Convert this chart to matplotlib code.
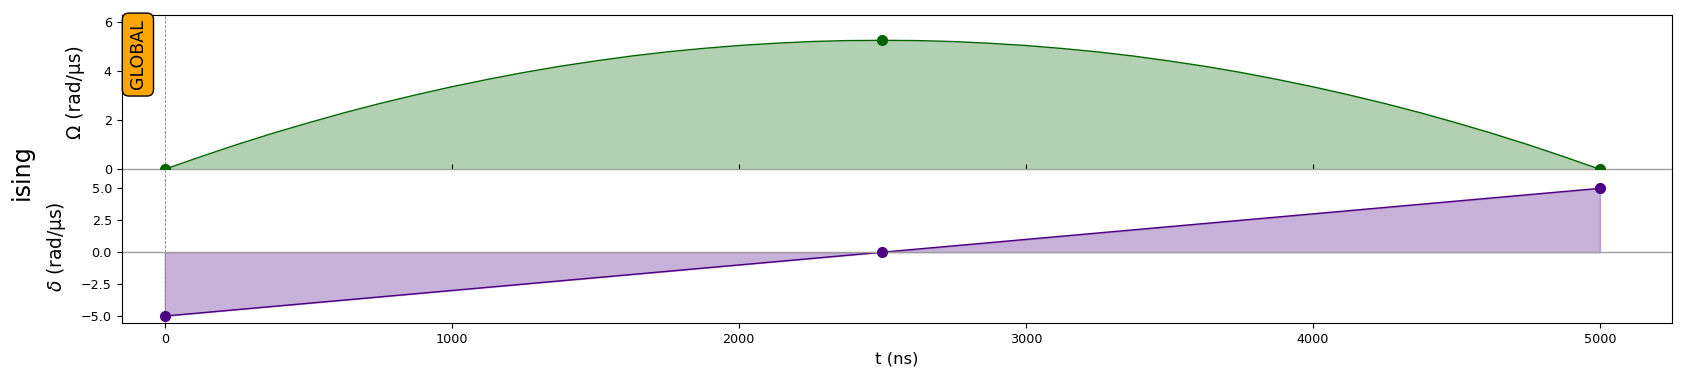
import matplotlib
matplotlib.use("Agg")
import matplotlib.pyplot as plt

# ---- data ----
omega_t = [0, 125, 250, 375, 500, 625, 750, 875, 1000, 1125, 1250, 1375, 1500,
           1625, 1750, 1875, 2000, 2125, 2250, 2375, 2500,
           2625, 2750, 2875, 3000, 3125, 3250, 3375, 3500, 3625, 3750,
           3875, 4000, 4125, 4250, 4375, 4500, 4625, 4750, 4875, 5000]
omega_v = [0.0, 0.51, 1.00, 1.46, 1.89, 2.30, 2.68, 3.03, 3.36, 3.66, 3.94, 4.19, 4.41,
           4.61, 4.78, 4.92, 5.04, 5.13, 5.20, 5.24, 5.25,
           5.24, 5.20, 5.13, 5.04, 4.92, 4.78, 4.61, 4.41, 4.19, 3.94,
           3.66, 3.36, 3.03, 2.68, 2.30, 1.89, 1.46, 1.00, 0.51, 0.0]
omega_pts_t = [0, 2500, 5000]
omega_pts_v = [0.0, 5.25, 0.0]

delta_t = [0, 2500, 5000]
delta_v = [-5.0, 0.0, 5.0]

x_ticks = [0, 1000, 2000, 3000, 4000, 5000]
omega_ticks = [0, 2, 4, 6]
delta_ticks = [-5.0, -2.5, 0.0, 2.5, 5.0]

channel_label = "GLOBAL"
seq_label = "ising"

fig = plt.figure(figsize=(16.92, 3.77), dpi=100)
left, right = 0.0719, 0.988
top, mid, bottom = 0.9594, 0.551, 0.1424
ax2 = fig.add_axes([left, bottom, right - left, mid - bottom])
ax1 = fig.add_axes([left, mid, right - left, top - mid], sharex=ax2)
ax1.patch.set_alpha(0)
ax1.set_zorder(2)

zero_col = "#a0a0a0"

# Omega
ax1.fill_between(omega_t, omega_v, 0, color="darkgreen", alpha=0.3, lw=0)
ax1.plot(omega_t, omega_v, color="darkgreen", lw=1)
ax1.plot(omega_pts_t, omega_pts_v, "o", color="darkgreen", ms=7, zorder=3)
ax1.axhline(0, color=zero_col, lw=1, zorder=2, clip_on=False)
ax1.axvline(0, color="grey", ls="--", lw=0.6, zorder=1)
ax1.set_ylim(0, 6.27)
ax1.set_yticks(omega_ticks)
ax1.set_ylabel("Ω (rad/µs)", fontsize=13.4)
ax1.yaxis.set_label_coords(-0.0237, 0.5)
ax1.spines["bottom"].set_visible(False)
ax1.tick_params(axis="x", direction="in", labelbottom=False)
ax1.tick_params(axis="both", labelsize=9.2)
ax1.text(0.0105, 0.745, channel_label, transform=ax1.transAxes, rotation=90,
         ha="center", va="center", fontsize=12.5,
         bbox=dict(boxstyle="round,pad=0.38", facecolor="orange", edgecolor="black"),
         zorder=5)

# Delta
ax2.fill_between(delta_t, delta_v, 0, color="indigo", alpha=0.3)
ax2.plot(delta_t, delta_v, color="indigo", lw=1)
ax2.plot(delta_t, delta_v, "o", color="indigo", ms=7, zorder=3)
ax2.axhline(0, color=zero_col, lw=1, zorder=2)
ax2.axvline(0, color="grey", ls="--", lw=0.6, zorder=1)
ax2.set_ylim(-5.57, 6.49)
ax2.set_yticks(delta_ticks)
ax2.set_ylabel(r"$\delta$ (rad/µs)", fontsize=13.4)
ax2.yaxis.set_label_coords(-0.0346, 0.5)
ax2.spines["top"].set_visible(False)
ax2.set_xticks(x_ticks)
ax2.set_xlim(-150, 5250)
ax2.set_xlabel("t (ns)", fontsize=11.8)
ax2.tick_params(axis="both", labelsize=9.2)

fig.text(22 / 1692, 1 - 172 / 377, seq_label, rotation=90, ha="center",
         va="center", fontsize=17.2)

fig.savefig("out.png", dpi=100)
